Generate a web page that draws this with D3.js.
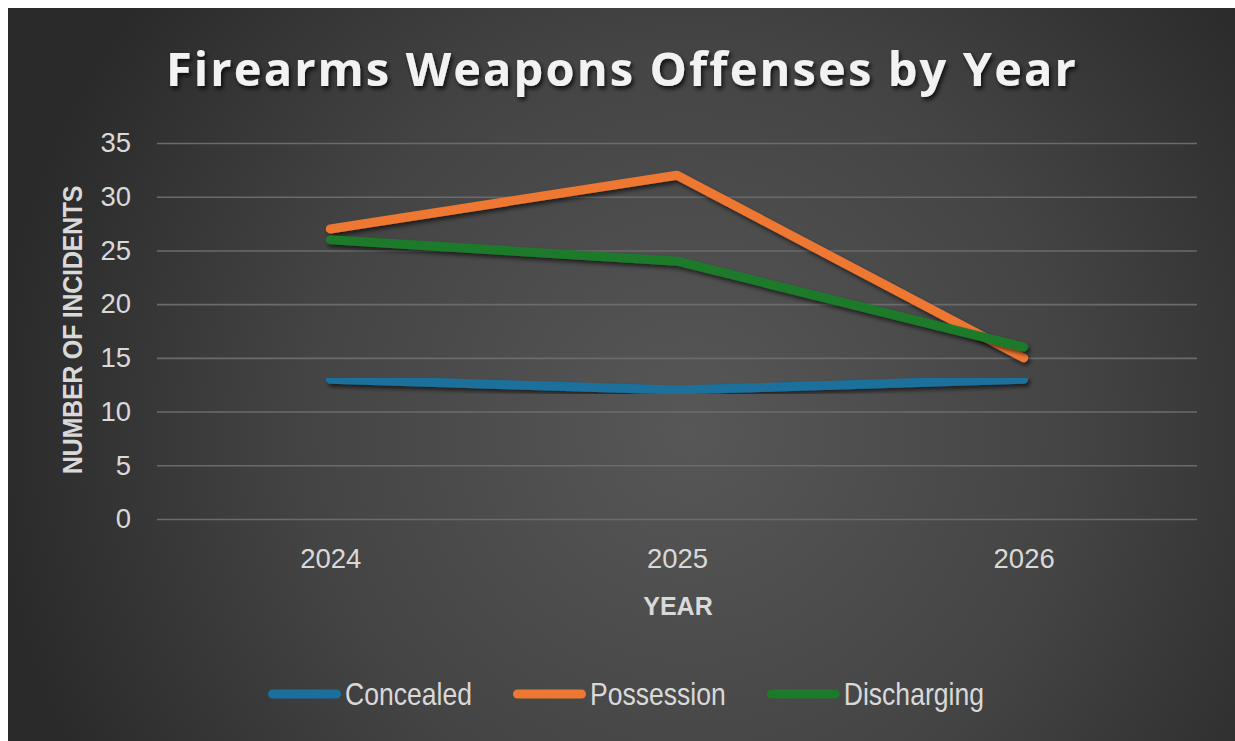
<!DOCTYPE html>
<html>
<head>
<meta charset="utf-8">
<script src="https://cdn.jsdelivr.net/npm/d3@7"></script>
<style>
  html, body { margin: 0; padding: 0; background: #ffffff; }
  svg { display: block; }
</style>
</head>
<body>
<svg id="chart" width="1235" height="741"></svg>
<script>
// ---- data ----
const years = ["2024", "2025", "2026"];
const concealed = [13, 12, 13];
const possession = [27, 32, 15];
const discharging = [26, 24, 16];
const seriesNames = ["Concealed", "Possession", "Discharging"];
const yTicks = [0, 5, 10, 15, 20, 25, 30, 35];
const titleText = "Firearms Weapons Offenses by Year";
const yTitle = "NUMBER OF INCIDENTS";
const xTitle = "YEAR";

const colors = ["#1a6f9c", "#ee7833", "#1c7a2a"];
const seriesValues = [concealed, possession, discharging];

const svg = d3.select("#chart");
const W = 1235, H = 741;

const defs = svg.append("defs");
const grad = defs.append("radialGradient").attr("id", "bg")
  .attr("gradientUnits", "userSpaceOnUse")
  .attr("cx", 690).attr("cy", 430).attr("r", 700);
grad.append("stop").attr("offset", "0%").attr("stop-color", "#575757");
grad.append("stop").attr("offset", "55%").attr("stop-color", "#444444");
grad.append("stop").attr("offset", "100%").attr("stop-color", "#2a2a2a");

const sh = defs.append("filter").attr("id", "shadow")
  .attr("x", "-10%").attr("y", "-10%").attr("width", "120%").attr("height", "140%");
sh.append("feDropShadow").attr("dx", 2).attr("dy", 3).attr("stdDeviation", 2)
  .attr("flood-color", "#000").attr("flood-opacity", 0.6);

const tsh = defs.append("filter").attr("id", "tshadow")
  .attr("x", "-5%").attr("y", "-20%").attr("width", "110%").attr("height", "150%");
tsh.append("feDropShadow").attr("dx", 2).attr("dy", 3).attr("stdDeviation", 2)
  .attr("flood-color", "#000").attr("flood-opacity", 0.75);

// background
svg.append("rect").attr("x", 8).attr("y", 8).attr("width", W - 8).attr("height", H - 8)
  .attr("fill", "url(#bg)");

// scales
const plotLeft = 157, plotRight = 1197, plotTop = 143, plotBottom = 519;
const x = d3.scalePoint().domain(years).range([plotLeft, plotRight]).padding(0.5);
const y = d3.scaleLinear().domain([0, 35]).range([plotBottom, plotTop]);

// gridlines + y labels
const yAxis = d3.axisLeft(y).tickValues(yTicks).tickSize(-(plotRight - plotLeft)).tickPadding(26);
const gy = svg.append("g").attr("transform", `translate(${plotLeft},0)`).call(yAxis);
gy.select(".domain").remove();
gy.selectAll(".tick line").attr("stroke", "#6b6b6b").attr("stroke-width", 1.6);
gy.selectAll(".tick text")
  .attr("fill", "#d9d9d9")
  .style("font-family", "'Liberation Sans', Arial, sans-serif")
  .style("font-size", "27.5px");

const xAxis = d3.axisBottom(x).tickSize(0).tickPadding(0);
const gx = svg.append("g").attr("transform", `translate(0,${plotBottom})`).call(xAxis);
gx.select(".domain").remove();
gx.selectAll(".tick text")
  .attr("fill", "#d9d9d9")
  .attr("dy", null)
  .attr("y", 49)
  .style("font-family", "'Liberation Sans', Arial, sans-serif")
  .style("font-size", "27.5px");

// lines
const line = d3.line().x((d, i) => x(years[i])).y(d => y(d));
svg.append("g").selectAll("path").data(seriesValues).join("path")
  .attr("d", d => line(d))
  .attr("fill", "none")
  .attr("stroke", (d, i) => colors[i])
  .attr("stroke-width", 9)
  .attr("stroke-linecap", "round")
  .attr("stroke-linejoin", "round")
  .attr("filter", "url(#shadow)");

// title
const title = svg.append("text")
  .attr("x", 622).attr("y", 86)
  .attr("text-anchor", "middle")
  .attr("fill", "#f2f2f2")
  .attr("filter", "url(#tshadow)")
  .style("font-family", "'Open Sans', sans-serif")
  .style("font-weight", "700")
  .style("font-size", "47px")
  .text(titleText);
(function fit(el, target) {
  const n = el.text().length;
  const w = el.node().getComputedTextLength();
  const ls = (target - w) / (n - 1);
  el.style("letter-spacing", ls + "px");
})(title, 910);

// axis titles
svg.append("text")
  .attr("transform", "translate(82,330) rotate(-90) scale(0.9,1)")
  .attr("text-anchor", "middle")
  .attr("fill", "#d9d9d9")
  .style("font-family", "'Liberation Sans', Arial, sans-serif")
  .style("font-weight", "700")
  .style("font-size", "28px")
  .style("letter-spacing", "-0.4px")
  .text(yTitle);

svg.append("text")
  .attr("x", 678).attr("y", 615)
  .attr("text-anchor", "middle")
  .attr("fill", "#d9d9d9")
  .style("font-family", "'Liberation Sans', Arial, sans-serif")
  .style("font-weight", "700")
  .style("font-size", "25px")
  .text(xTitle);

// legend
const legend = svg.append("g");
const swW = 73, gapT = 4, gapItem = 41, condense = 0.83;
let cx = 0;
seriesNames.forEach((name, i) => {
  const g = legend.append("g");
  g.append("line").attr("x1", 4.5).attr("x2", swW - 4.5).attr("y1", 0).attr("y2", 0)
    .attr("stroke", colors[i]).attr("stroke-width", 9).attr("stroke-linecap", "round");
  const t = g.append("text")
    .attr("transform", `translate(${swW + gapT},11) scale(${condense},1)`)
    .attr("fill", "#d9d9d9")
    .style("font-family", "'Liberation Sans', Arial, sans-serif")
    .style("font-size", "32px")
    .text(name);
  const tw = t.node().getComputedTextLength() * condense;
  g.attr("transform", `translate(${cx},0)`);
  cx += swW + gapT + tw + gapItem;
});
const totalW = cx - gapItem;
legend.attr("transform", `translate(${626 - totalW / 2},694)`);
</script>
</body>
</html>
